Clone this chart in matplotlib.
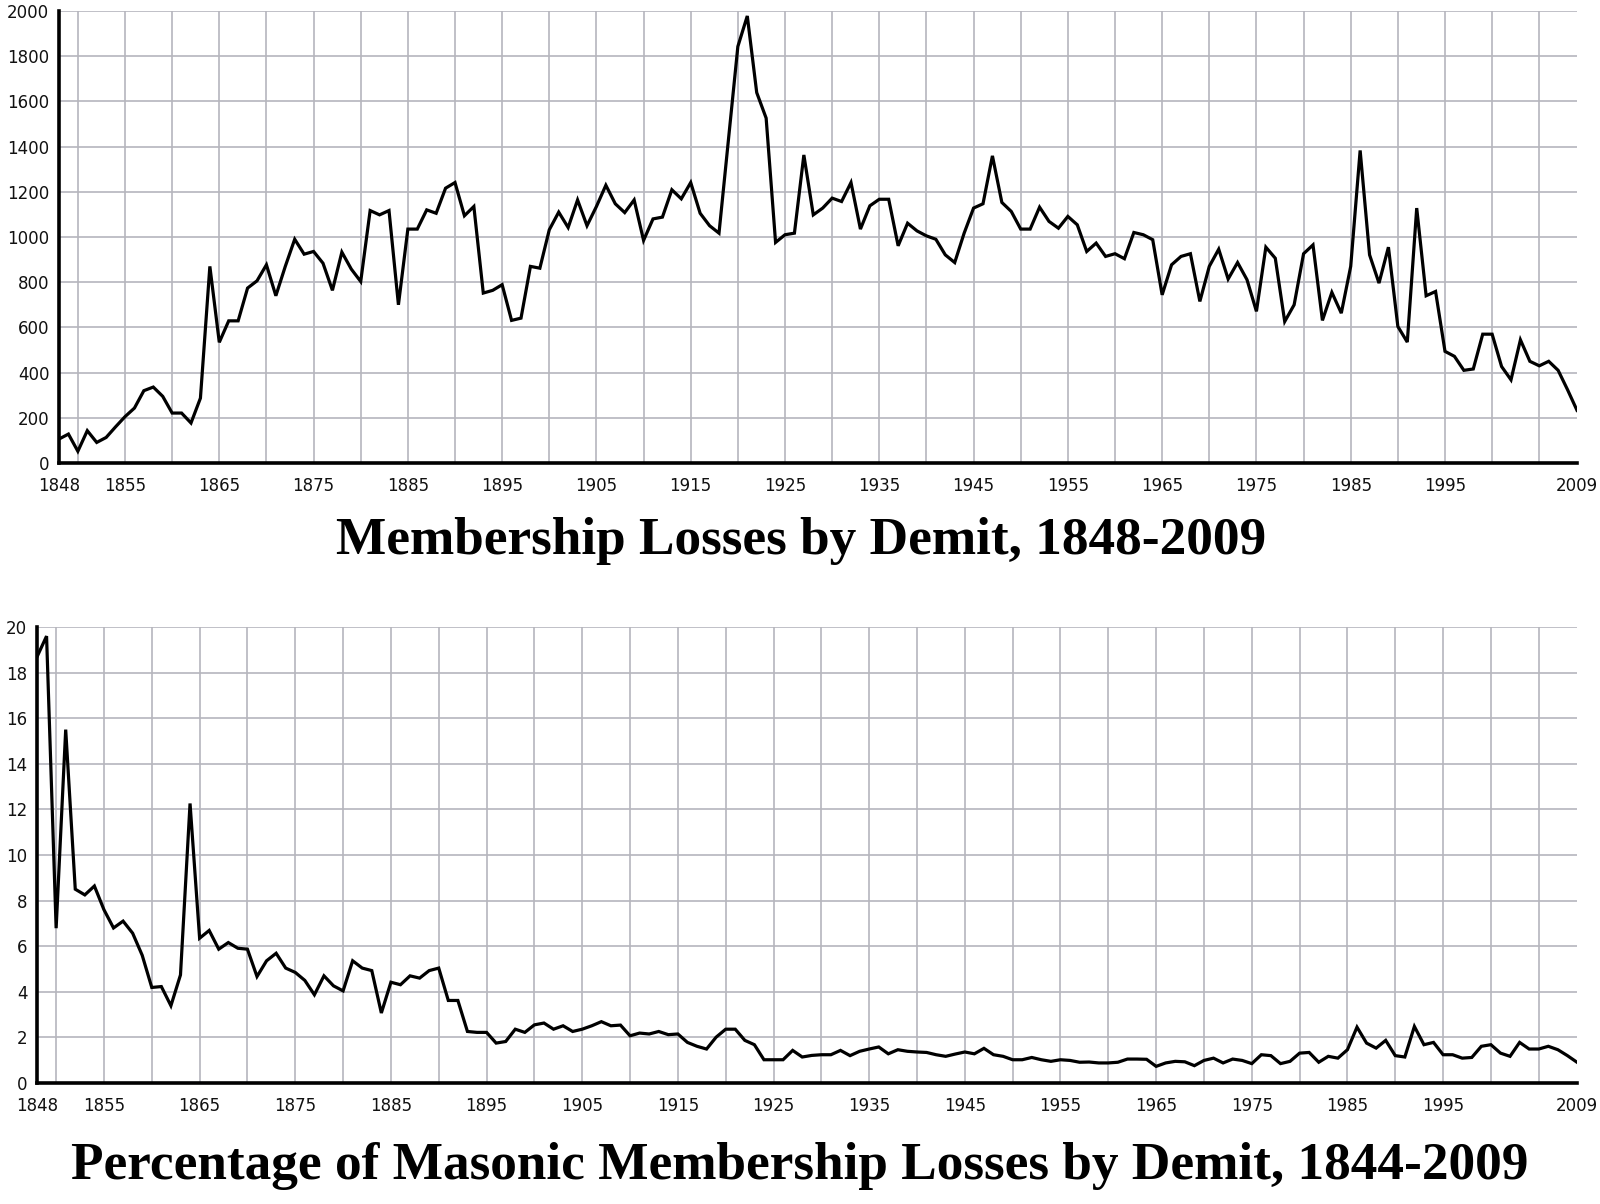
import numpy as np
import matplotlib
matplotlib.use("Agg")
import matplotlib.pyplot as plt

years = list(range(1848, 2010))

demits = [
    106, 128, 52, 143, 91, 113, 160, 205, 243, 320,
    336, 295, 221, 221, 177, 287, 870, 534, 629, 629,
    774, 806, 877, 740, 870, 990, 924, 936, 884, 764,
    933, 858, 803, 1117, 1098, 1117, 700, 1035, 1035, 1120,
    1105, 1216, 1241, 1094, 1135, 752, 764, 789, 631, 641,
    870, 862, 1032, 1110, 1042, 1164, 1050, 1135, 1229, 1147,
    1108, 1164, 985, 1080, 1088, 1209, 1169, 1241, 1105, 1050,
    1017, 1430, 1843, 1978, 1639, 1526, 976, 1010, 1017, 1363,
    1098, 1128, 1172, 1157, 1241, 1035, 1138, 1167, 1167, 961,
    1061, 1027, 1005, 990, 921, 887, 1017, 1128, 1147, 1359,
    1153, 1113, 1035, 1035, 1132, 1069, 1039, 1091, 1054, 936,
    973, 914, 926, 904, 1020, 1010, 988, 744, 877, 914,
    926, 715, 870, 946, 814, 887, 811, 671, 955, 906,
    626, 700, 926, 965, 631, 755, 663, 870, 1383, 921,
    796, 955, 604, 535, 1128, 740, 759, 494, 472, 410,
    416, 570, 570, 427, 368, 545, 450, 430, 450, 410,
    324, 233,
]

pct = [
    18.69, 19.6, 6.79, 15.5, 8.5, 8.25, 8.64, 7.6, 6.8, 7.1,
    6.57, 5.6, 4.19, 4.23, 3.39, 4.74, 12.26, 6.35, 6.69, 5.87,
    6.16, 5.91, 5.87, 4.67, 5.36, 5.69, 5.04, 4.85, 4.5, 3.87,
    4.7, 4.26, 4.04, 5.36, 5.04, 4.93, 3.07, 4.42, 4.31, 4.7,
    4.6, 4.93, 5.04, 3.62, 3.62, 2.26, 2.22, 2.22, 1.75, 1.82,
    2.36, 2.22, 2.55, 2.63, 2.36, 2.51, 2.26, 2.36, 2.51, 2.69,
    2.51, 2.54, 2.07, 2.19, 2.15, 2.26, 2.12, 2.15, 1.78, 1.61,
    1.49, 2.01, 2.36, 2.36, 1.87, 1.68, 1.02, 1.02, 1.02, 1.43,
    1.14, 1.21, 1.24, 1.24, 1.43, 1.2, 1.39, 1.49, 1.58, 1.28,
    1.46, 1.39, 1.36, 1.34, 1.24, 1.17, 1.27, 1.36, 1.28, 1.52,
    1.24, 1.17, 1.02, 1.02, 1.12, 1.02, 0.95, 1.02, 0.99, 0.91,
    0.92, 0.88, 0.88, 0.91, 1.05, 1.05, 1.04, 0.73, 0.88, 0.95,
    0.93, 0.76, 0.99, 1.09, 0.88, 1.05, 0.99, 0.85, 1.24, 1.2,
    0.85, 0.95, 1.31, 1.34, 0.91, 1.17, 1.09, 1.46, 2.45, 1.75,
    1.53, 1.87, 1.2, 1.14, 2.48, 1.68, 1.78, 1.24, 1.24, 1.09,
    1.12, 1.61, 1.68, 1.31, 1.17, 1.78, 1.49, 1.49, 1.61, 1.46,
    1.2, 0.91,
]

xtick_labels = [1848, 1855, 1865, 1875, 1885, 1895, 1905, 1915, 1925,
                1935, 1945, 1955, 1965, 1975, 1985, 1995, 2009]
grid_years = list(range(1850, 2009, 5))
top_yticks = list(range(0, 2001, 200))
bot_yticks = list(range(0, 21, 2))

title_top = "Membership Losses by Demit, 1848-2009"
title_bot = "Percentage of Masonic Membership Losses by Demit, 1844-2009"

W, H = 1600, 1204
fig = plt.figure(figsize=(W / 100, H / 100), dpi=100)

grid_color = "#b5b5bd"


def make_axes(rect, yvals, yticks, ymax):
    ax = fig.add_axes(rect)
    for gy in grid_years:
        ax.axvline(gy, color=grid_color, lw=1.2, zorder=1)
    for t in yticks[1:]:
        ax.axhline(t, color=grid_color, lw=1.2, zorder=1)
    ax.plot(years, yvals, color="black", lw=2.3, zorder=3,
            solid_joinstyle="miter")
    ax.set_xlim(1848, 2009)
    ax.set_ylim(0, ymax)
    ax.set_yticks(yticks)
    ax.set_yticklabels([str(t) for t in yticks])
    ax.set_xticks(xtick_labels)
    ax.set_xticklabels([str(t) for t in xtick_labels])
    for s in ["top", "right"]:
        ax.spines[s].set_visible(False)
    for s in ["left", "bottom"]:
        ax.spines[s].set_linewidth(2.6)
        ax.spines[s].set_color("black")
        ax.spines[s].set_zorder(4)
    ax.tick_params(axis="both", length=0, labelsize=12, colors="#111111")
    ax.tick_params(axis="y", pad=7)
    ax.tick_params(axis="x", pad=10)
    return ax


ax1 = make_axes([59 / W, 1 - 463 / H, (1577 - 59) / W, (463 - 11) / H],
                demits, top_yticks, 2000)
ax2 = make_axes([37 / W, 1 - 1083 / H, (1577 - 37) / W, (1083 - 627) / H],
                pct, bot_yticks, 20)

fig.text(0.5006, 1 - 541 / H, title_top, ha="center", va="center",
         fontsize=38.3, fontweight="bold", family="Liberation Serif")
fig.text(0.5, 1 - 1166 / H, title_bot, ha="center", va="center",
         fontsize=38.3, fontweight="bold", family="Liberation Serif")

fig.savefig("out.png", dpi=100, facecolor="white")
